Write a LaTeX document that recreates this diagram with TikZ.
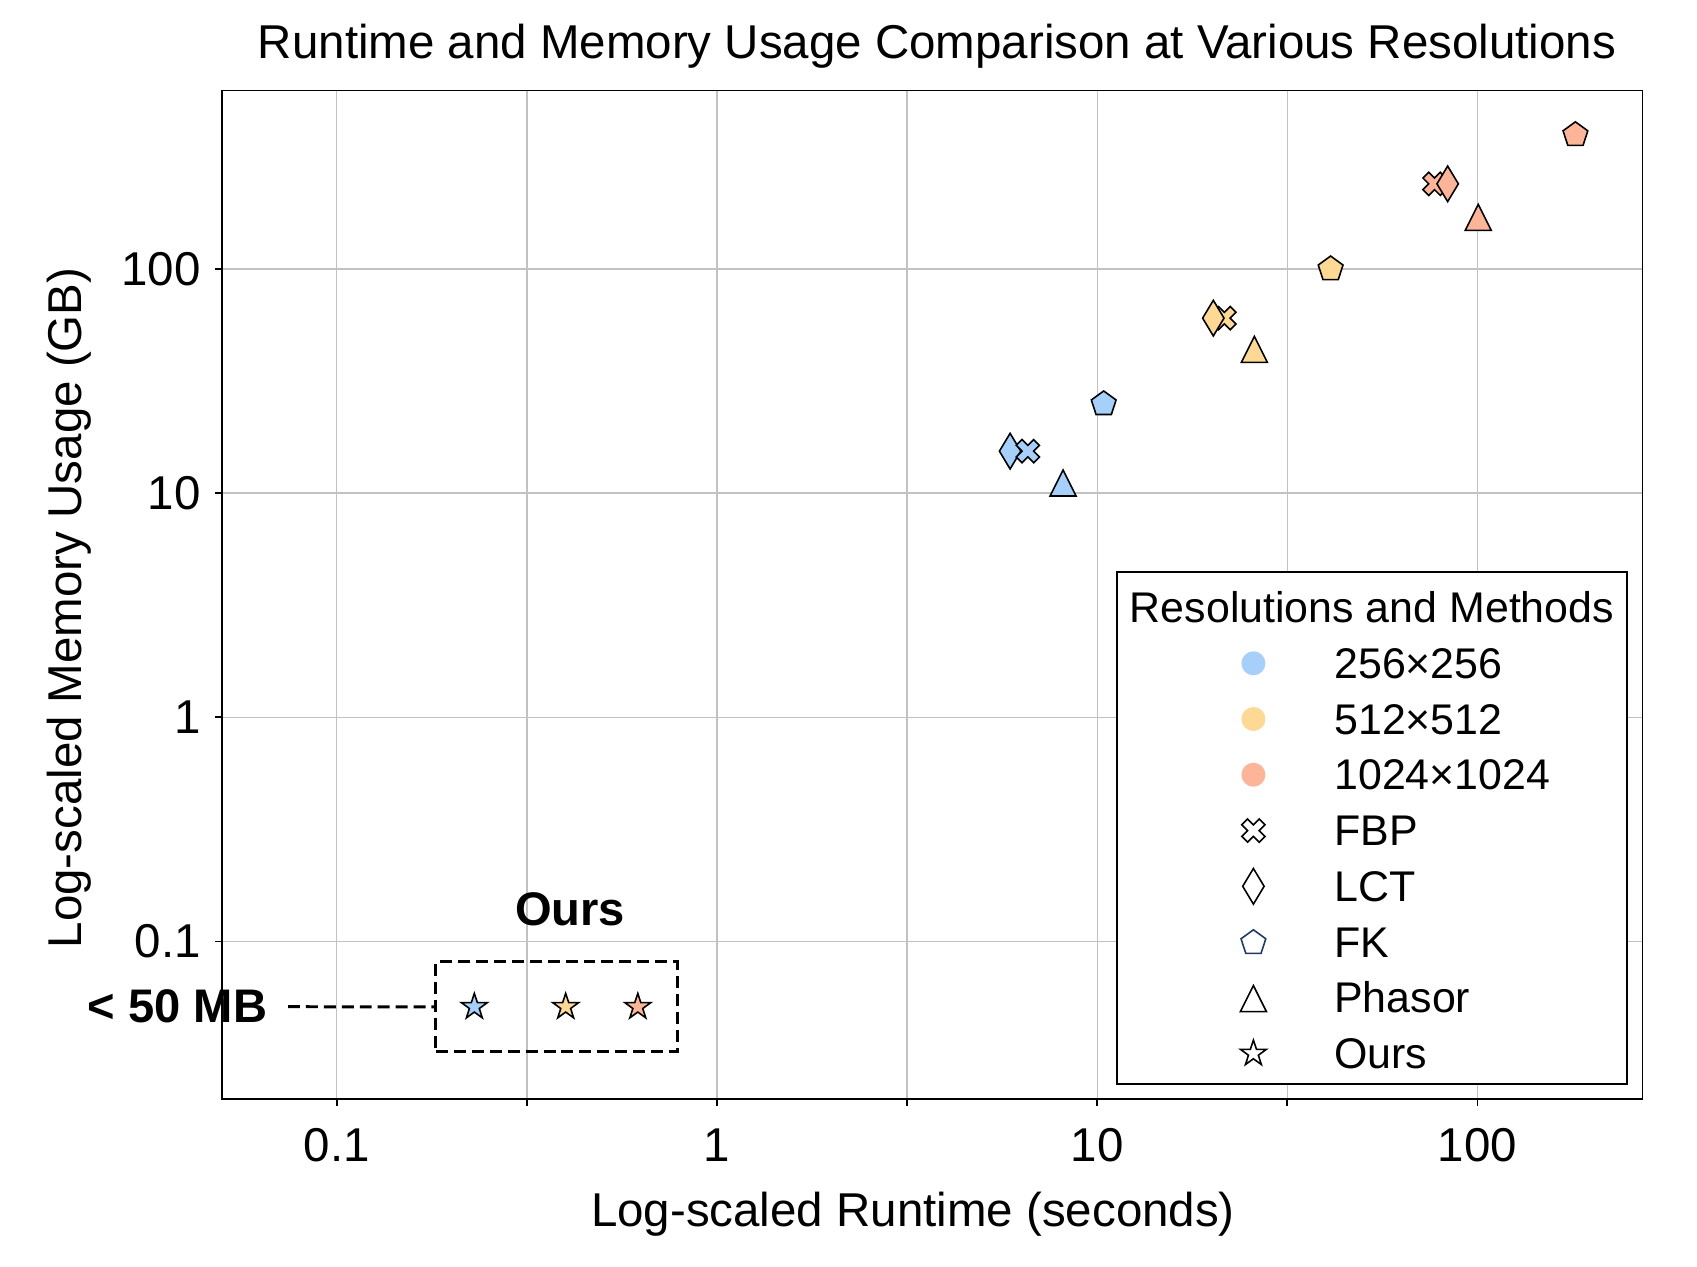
\documentclass[tikz,border=0pt]{standalone}
\usepackage{fontspec}
\setmainfont{Liberation Sans}
\definecolor{res256}{HTML}{A6D0FA}
\definecolor{res512}{HTML}{FED996}
\definecolor{res1024}{HTML}{FDB59A}
\definecolor{gridgrey}{HTML}{C2C2C2}
\definecolor{fkedge}{HTML}{1F3A68}
\tikzset{
    mark edge/.style={line width=0.45pt, line join=miter},
    pics/fbp/.style={code={
        \path[mark edge, draw=black, fill=#1, rotate=45, x=0.041cm, y=0.041cm]
            (-1,-3) -- (-1,-1) -- (-3,-1) -- (-3,1) -- (-1,1) -- (-1,3)
            -- (1,3) -- (1,1) -- (3,1) -- (3,-1) -- (1,-1) -- (1,-3) -- cycle;
    }},
    pics/lct/.style={code={
        \path[mark edge, draw=black, fill=#1, x=0.107cm, y=0.178cm]
            (0,1) -- (1,0) -- (0,-1) -- (-1,0) -- cycle;
    }},
    pics/fk/.style 2 args={code={
        \path[mark edge, draw=#2, fill=#1]
            (90:0.13cm) -- (162:0.13cm) -- (234:0.13cm) -- (306:0.13cm) -- (18:0.13cm) -- cycle;
    }},
    pics/phasor/.style={code={
        \path[mark edge, draw=black, fill=#1]
            (0pt,0.13cm) -- (-0.13cm,-0.13cm) -- (0.13cm,-0.13cm) -- cycle;
    }},
    pics/ours/.style={code={
        \path[mark edge, draw=black, fill=#1] (90:0.135cm)
            \foreach \k in {1,...,5} { -- ({54+72*\k}:0.052cm) -- ({90+72*\k}:0.135cm) } -- cycle;
    }},
    gridline/.style={gridgrey, line width=0.4pt},
    axisline/.style={black, line width=0.5pt},
    labeltext/.style={inner sep=0pt, font=\fontsize{13.5}{16}\selectfont},
    boldtext/.style={labeltext, font=\fontsize{13.4}{16}\selectfont\bfseries},
    legendtext/.style={inner sep=0pt, font=\fontsize{12.2}{14}\selectfont},
    oursdash/.style={line width=0.85pt, dash pattern=on 3.4pt off 1.7pt},
    oursbox/.style={draw, oursdash, inner sep=0pt},
}
\begin{document}
\begin{tikzpicture}[x=0.01cm, y=-0.01cm]
    \useasboundingbox (0,0) rectangle (1697,1267);

    % plot area, in log10 units
    \begin{scope}[shift={(717,717.3)}, x=3.8cm, y=2.24cm]
        \foreach \g in {-1,-0.5,...,2}
            \draw[gridline] (\g,-1.704) -- (\g,2.797);
        \foreach \g in {-1,...,2}
            \draw[gridline] (-1.3026,\g) -- (2.434,\g);
        \draw[axisline] (-1.3026,-1.704) rectangle (2.434,2.797);
        \foreach \g in {-1,-0.5,...,2}
            \draw[axisline] (\g,-1.704) -- ++(0pt,-0.07cm);
        \foreach \g in {-1,...,2}
            \draw[axisline] (-1.3026,\g) -- ++(-0.065cm,0pt);
        \foreach \g/\t [count=\i] in {-1/0.1,0/1,1/10,2/100} {
            \node[labeltext, anchor=base] (xtick\i) at ([yshift=-6.27mm]\g,-1.704) {\t};
            \node[labeltext, anchor=east] (ytick\i) at ([xshift=-2.04mm]-1.3026,\g) {\t};
        }

        % 256x256
        \pic at ({log10(5.90)},{log10(15.4)}) {lct=res256};
        \pic at ({log10(6.57)},{log10(15.4)}) {fbp=res256};
        \pic at ({log10(10.4)},{log10(25.0)}) {fk={res256}{black}};
        \pic at ({log10(8.13)},{log10(11.1)}) {phasor=res256};
        % 512x512
        \pic at ({log10(21.6)},{log10(60.4)}) {fbp=res512};
        \pic at ({log10(20.2)},{log10(60.4)}) {lct=res512};
        \pic at ({log10(41.1)},{log10(100)}) {fk={res512}{black}};
        \pic at ({log10(25.9)},{log10(43.8)}) {phasor=res512};
        % 1024x1024
        \pic at ({log10(77.1)},{log10(240)}) {fbp=res1024};
        \pic at ({log10(83.5)},{log10(240)}) {lct=res1024};
        \pic at ({log10(181)},{log10(397)}) {fk={res1024}{black}};
        \pic at ({log10(100.5)},{log10(170)}) {phasor=res1024};
        % ours
        \pic at ({log10(0.230)},{log10(0.051)}) {ours=res256};
        \pic at ({log10(0.400)},{log10(0.051)}) {ours=res512};
        \pic at ({log10(0.619)},{log10(0.051)}) {ours=res1024};
    \end{scope}

    \node[labeltext, anchor=base] (title) at (937,59) {Runtime and Memory Usage Comparison at Various Resolutions};
    \node[labeltext, anchor=base] (xlabel) at (913,1226.7) {Log-scaled Runtime (seconds)};
    \node[labeltext, anchor=base, rotate=90] (ylabel) at (81.6,608) {Log-scaled Memory Usage (GB)};

    % ours highlight
    \node[boldtext, anchor=base] (ourslabel) at (570,925) {Ours};
    \node[oursbox, minimum width=2.41cm, minimum height=0.897cm] (oursbox) at (556.5,1006.85) {};
    \node[boldtext, anchor=east] (fiftymb) at (268,1006.7) {< 50 MB};
    \draw[oursdash, shorten <=2mm] (fiftymb.east) -- (oursbox.west);

    % legend
    \draw[axisline, fill=white] (1117,572.3) rectangle (1626.7,1084);
    \node[legendtext, anchor=base] (legtitle) at (1372,622) {Resolutions and Methods};
    \foreach \c [count=\i] in {res256,res512,res1024}
        \fill[\c] (1253.4,{663.3+55.7*(\i-1)}) circle[radius=0.12cm];
    \pic at (1253.4,830.6) {fbp=white};
    \pic at (1253.4,886.3) {lct=white};
    \pic at (1253.4,942.8) {fk={white}{fkedge}};
    \pic at (1253.4,998.6) {phasor=white};
    \pic at (1253.4,1053.6) {ours=white};
    \foreach \t [count=\i] in {256×256,512×512,1024×1024,FBP,LCT,FK,Phasor,Ours}
        \node[legendtext, anchor=base west] (leg\i) at (1333.6,{678.5+55.7*(\i-1)}) {\t};
\end{tikzpicture}
\end{document}
